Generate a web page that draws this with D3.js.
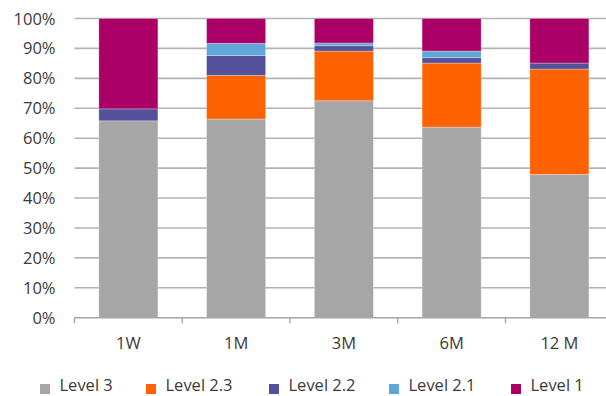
<!DOCTYPE html>
<html>
<head>
<meta charset="utf-8">
<script src="https://cdn.jsdelivr.net/npm/d3@7"></script>
<style>
  html, body { margin: 0; padding: 0; background: #fff; }
  svg { display: block; font-family: "Open Sans", "Noto Sans", sans-serif; }
</style>
</head>
<body>
<svg id="chart" width="606" height="396"></svg>
<script>
// Tenors along the x axis
const tenors = ["1W", "1M", "3M", "6M", "12M"];
const tenorLabels = ["1W", "1M", "3M", "6M", "12 M"];

// Share (%) of each level per tenor, stacked bottom to top
const level3  = [65.8, 66.4, 72.5, 63.7, 47.9];
const level23 = [0.0, 14.6, 16.6, 21.4, 35.2];
const level22 = [4.0, 6.6, 1.8, 1.8, 2.0];
const level21 = [0.0, 4.1, 0.9, 2.2, 0.0];
const level1  = [30.2, 8.3, 8.2, 10.9, 14.9];

const seriesNames = ["Level 3", "Level 2.3", "Level 2.2", "Level 2.1", "Level 1"];
const seriesValues = [level3, level23, level22, level21, level1];
const seriesColors = ["#a6a6a6", "#ff6200", "#525199", "#60a6da", "#ab0066"];

const yTicks = [0, 10, 20, 30, 40, 50, 60, 70, 80, 90, 100];

const rows = tenors.map((t, i) => {
  const r = { tenor: t };
  seriesNames.forEach((s, j) => { r[s] = seriesValues[j][i]; });
  return r;
});

const svg = d3.select("#chart");
const plotLeft = 74.5, plotRight = 613.25, plotTop = 18.5, plotBottom = 317.7;

const x = d3.scaleBand().domain(tenors).range([plotLeft, plotRight])
  .paddingInner(0.452).paddingOuter(0.226);
const y = d3.scaleLinear().domain([0, 100]).range([plotBottom, plotTop]);

const textColor = "#3a3a3a";

// Horizontal gridlines
svg.append("g")
  .selectAll("line")
  .data(yTicks.filter(d => d > 0))
  .join("line")
  .attr("x1", plotLeft).attr("x2", 606)
  .attr("y1", d => y(d)).attr("y2", d => y(d))
  .attr("stroke", "#b3b3b3").attr("stroke-width", 1.6);

// Stacked bars
const stack = d3.stack().keys(seriesNames)(rows);
svg.append("g")
  .selectAll("g")
  .data(stack)
  .join("g")
  .attr("fill", (d, i) => seriesColors[i])
  .selectAll("rect")
  .data(d => d)
  .join("rect")
  .attr("x", d => x(d.data.tenor))
  .attr("width", x.bandwidth())
  .attr("y", d => y(d[1]))
  .attr("height", d => Math.max(0, y(d[0]) - y(d[1])))
  .attr("stroke", "#ffffff").attr("stroke-opacity", 0.35).attr("stroke-width", 0.8);

// X axis with ticks between categories
const xAxis = svg.append("g");
xAxis.append("line")
  .attr("x1", plotLeft).attr("x2", 606)
  .attr("y1", plotBottom).attr("y2", plotBottom)
  .attr("stroke", "#a6a6a6").attr("stroke-width", 1.6);
const boundaries = tenors.map(t => x(t) - x.step() * x.paddingInner() / 2);
xAxis.selectAll("line.tick")
  .data(boundaries)
  .join("line")
  .attr("class", "tick")
  .attr("x1", d => d).attr("x2", d => d)
  .attr("y1", plotBottom).attr("y2", plotBottom + 5.5)
  .attr("stroke", "#a6a6a6").attr("stroke-width", 1.4);
xAxis.selectAll("text")
  .data(tenors)
  .join("text")
  .attr("x", d => x(d) + x.bandwidth() / 2)
  .attr("y", 348.5)
  .attr("text-anchor", "middle")
  .attr("font-size", 16.5)
  .attr("fill", textColor)
  .text((d, i) => tenorLabels[i]);

// Y axis labels
svg.append("g")
  .selectAll("text")
  .data(yTicks)
  .join("text")
  .attr("x", 55.5)
  .attr("y", d => y(d) + 6)
  .attr("text-anchor", "end")
  .attr("font-size", 16.5)
  .attr("fill", textColor)
  .text(d => d + "%");

// Legend
const legendX = [40, 146, 269, 389, 511];
const legend = svg.append("g")
  .selectAll("g")
  .data(seriesNames)
  .join("g")
  .attr("transform", (d, i) => `translate(${legendX[i]},384)`);
legend.append("rect")
  .attr("width", 10).attr("height", 10)
  .attr("fill", (d, i) => seriesColors[i]);
legend.append("text")
  .attr("x", 19.5).attr("y", 7)
  .attr("font-size", 16.5)
  .attr("fill", textColor)
  .text(d => d);
</script>
</body>
</html>
